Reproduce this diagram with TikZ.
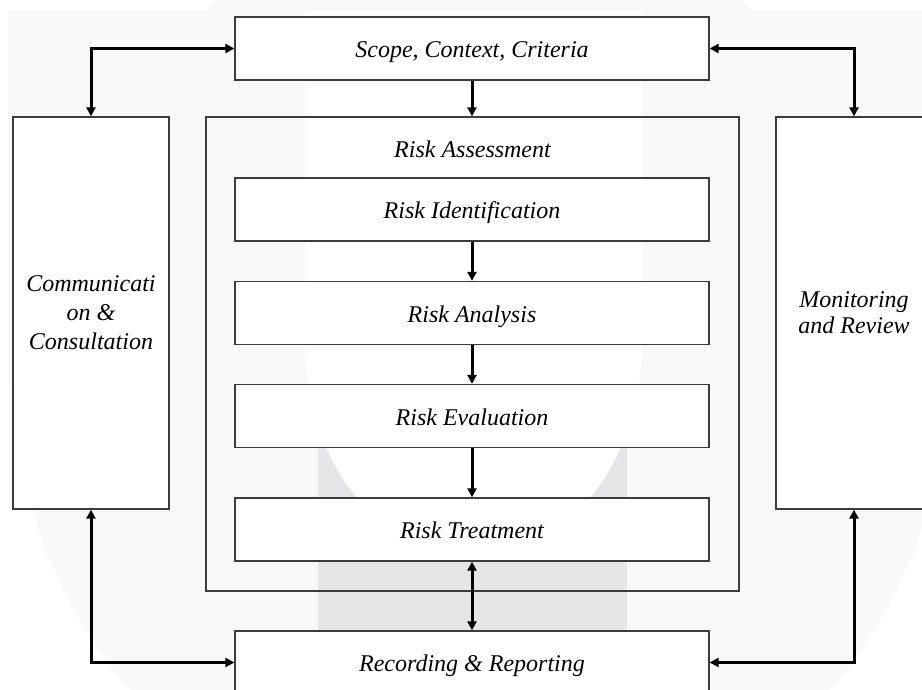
\documentclass[tikz,border=0pt]{standalone}
\usepackage{fontspec}
\setmainfont{Liberation Serif}
\usetikzlibrary{arrows.meta}
\definecolor{wmlight}{HTML}{F8F8F8}
\definecolor{wmdark}{HTML}{E6E6E8}
\definecolor{boxline}{HTML}{3C3C3C}
\tikzset{
 box/.style={draw=boxline, line width=1.3pt, fill=white, inner sep=0pt, font=\fontsize{24}{29}\selectfont\itshape},
 wide/.style={box, minimum width=474pt, minimum height=63pt, text height=18pt, text depth=0pt},
 side/.style={box, minimum width=156pt, minimum height=392pt, align=center},
 frame/.style={draw=boxline, line width=1.3pt, inner sep=0pt},
 title/.style={font=\fontsize{24}{29}\selectfont\itshape, inner sep=0pt},
 arr/.style={line width=3pt, -{Triangle[length=9pt,width=9pt]}},
 darr/.style={line width=3pt, {Triangle[length=9pt,width=9pt]}-{Triangle[length=9pt,width=9pt]}},
}
\begin{document}
\begin{tikzpicture}[x=1pt,y=-1pt]
\useasboundingbox (0,0) rectangle (922,690);
\clip (0,0) rectangle (922,690);
% watermark
\fill[white] (0,0) rectangle (922,690);
\fill[wmlight] (8,10) rectangle (950,385);
\fill[wmlight] (480,385) circle[radius=464pt];
\fill[wmdark] (318,380) rectangle (627,700);
\fill[white] (305,10) -- (305,344) arc[start angle=180, end angle=360, x radius=168.5pt, y radius=213pt] -- (642,10) -- cycle;
% frame
\node[frame, minimum width=533pt, minimum height=474pt] (ra) at (472.5,354) {};
\node[title, anchor=base] (ratitle) at (472.5,158) {Risk Assessment};
% boxes
\node[wide] (scope) at (472,48.5) {Scope, Context, Criteria};
\node[wide] (ident) at (472,209.5) {Risk Identification};
\node[wide] (anal) at (472,313) {Risk Analysis};
\node[wide] (eval) at (472,416) {Risk Evaluation};
\node[wide] (treat) at (472,529.5) {Risk Treatment};
\node[wide] (rec) at (472,662.5) {Recording \& Reporting};
\node[side] (left) at (91,313) {Communicati\\on \&\\Consultation};
\node[side, font=\fontsize{24}{26}\selectfont\itshape] (right) at (854,313) {Monitoring\\and Review};
% connectors
\draw[arr] (scope.south) -- (scope.south |- ra.north);
\draw[arr] (ident) -- (anal);
\draw[arr] (anal) -- (eval);
\draw[arr] (eval) -- (treat);
\draw[darr] (treat.south) -- (rec.north);
\draw[darr] (scope.west) -| (left.north);
\draw[darr] (scope.east) -| (right.north);
\draw[darr] (left.south) |- (rec.west);
\draw[darr] (right.south) |- (rec.east);
\end{tikzpicture}
\end{document}
